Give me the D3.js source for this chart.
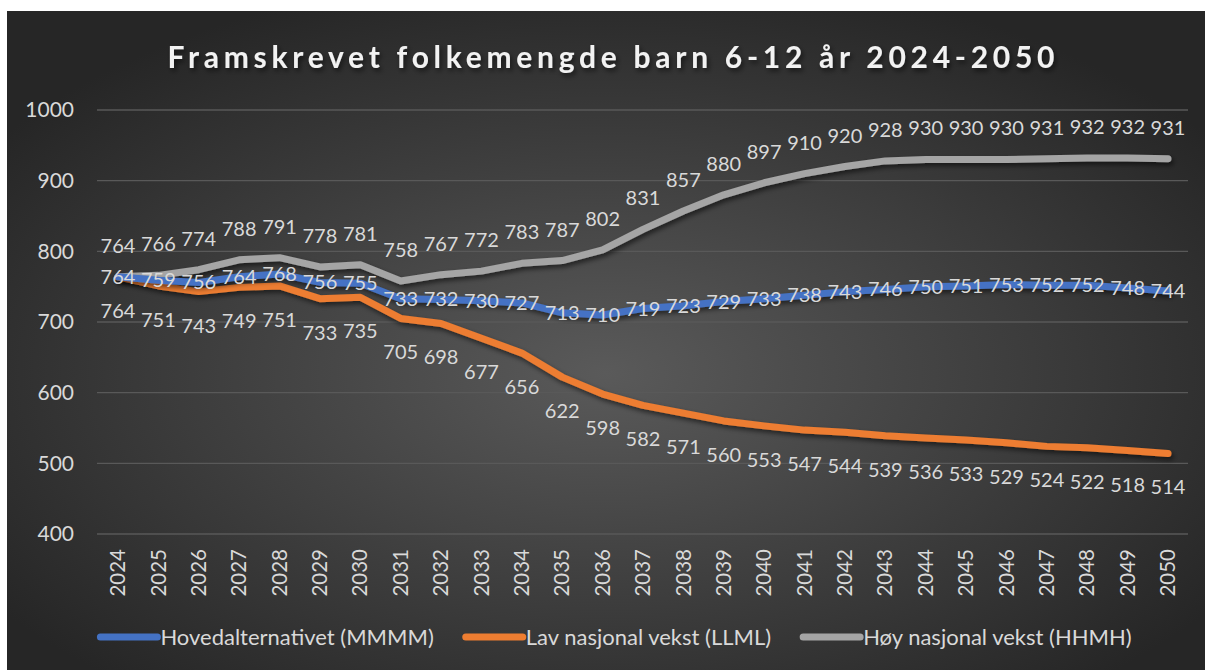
<!DOCTYPE html>
<html>
<head>
<meta charset="utf-8">
<script src="https://cdn.jsdelivr.net/npm/d3@7"></script>
<style>
  body { margin: 0; background: #fff; }
  svg { display: block; font-family: Lato, "Open Sans", sans-serif; }
</style>
</head>
<body>
<div id="chart"></div>
<script>
// data
const years = d3.range(2024, 2051).map(String);
const yTicks = [400, 500, 600, 700, 800, 900, 1000];
const seriesNames = ['Hovedalternativet (MMMM)', 'Lav nasjonal vekst (LLML)', 'Høy nasjonal vekst (HHMH)'];
const mmmm = [764, 759, 756, 764, 768, 756, 755, 733, 732, 730, 727, 713, 710, 719, 723, 729, 733, 738, 743, 746, 750, 751, 753, 752, 752, 748, 744];
const llml = [764, 751, 743, 749, 751, 733, 735, 705, 698, 677, 656, 622, 598, 582, 571, 560, 553, 547, 544, 539, 536, 533, 529, 524, 522, 518, 514];
const hhmh = [764, 766, 774, 788, 791, 778, 781, 758, 767, 772, 783, 787, 802, 831, 857, 880, 897, 910, 920, 928, 930, 930, 930, 931, 932, 932, 931];

const series = [
  { name: seriesNames[0], values: mmmm, color: '#4472c4', labelDy: 0 },
  { name: seriesNames[1], values: llml, color: '#ed7d31', labelDy: 34 },
  { name: seriesNames[2], values: hhmh, color: '#a5a5a5', labelDy: -31 }
];

const width = 1205, height = 670;
const svg = d3.select('#chart').append('svg')
  .attr('width', width)
  .attr('height', height);

const defs = svg.append('defs');
const grad = defs.append('radialGradient')
  .attr('id', 'bg')
  .attr('cx', '50%').attr('cy', '55%').attr('r', '62%');
grad.append('stop').attr('offset', '0%').attr('stop-color', '#5a5a5a');
grad.append('stop').attr('offset', '100%').attr('stop-color', '#262626');

const shadow = defs.append('filter').attr('id', 'shadow')
  .attr('x', '-5%').attr('y', '-20%').attr('width', '110%').attr('height', '140%');
shadow.append('feDropShadow')
  .attr('dx', 2).attr('dy', 3).attr('stdDeviation', 2.5)
  .attr('flood-color', '#000').attr('flood-opacity', 0.55);

svg.append('rect')
  .attr('x', 7).attr('y', 11)
  .attr('width', width - 7).attr('height', height - 11)
  .attr('fill', 'url(#bg)');

// scales
const x = d3.scalePoint().domain(years).range([118, 1168]);
const y = d3.scaleLinear().domain([400, 1000]).range([534, 110]);
const gridLeft = 97, gridRight = 1188;

// title
svg.append('text')
  .attr('x', 611).attr('y', 68)
  .attr('text-anchor', 'middle')
  .attr('font-size', 30)
  .attr('font-weight', 'bold')
  .attr('fill', '#f2f2f2')
  .attr('textLength', 887)
  .attr('lengthAdjust', 'spacing')
  .attr('filter', 'url(#shadow)')
  .text('Framskrevet folkemengde barn 6-12 år 2024-2050');

// gridlines
svg.append('g').selectAll('line')
  .data(yTicks)
  .join('line')
  .attr('x1', gridLeft).attr('x2', gridRight)
  .attr('y1', d => y(d)).attr('y2', d => y(d))
  .attr('stroke', '#595959')
  .attr('stroke-width', 1.3);

// y axis labels
svg.append('g').selectAll('text')
  .data(yTicks)
  .join('text')
  .attr('x', 74).attr('y', d => y(d))
  .attr('dy', '0.35em')
  .attr('text-anchor', 'end')
  .attr('font-size', 21)
  .attr('fill', '#d9d9d9')
  .text(d => d);

// x axis labels
svg.append('g').selectAll('text')
  .data(years)
  .join('text')
  .attr('transform', d => `translate(${x(d)},549) rotate(-90)`)
  .attr('dy', '0.35em')
  .attr('text-anchor', 'end')
  .attr('font-size', 20.5)
  .attr('fill', '#d9d9d9')
  .text(d => d);

// lines
const line = d3.line()
  .x((d, i) => x(years[i]))
  .y(d => y(d));

const drawOrder = [series[2], series[1], series[0]];
svg.append('g').selectAll('path')
  .data(drawOrder)
  .join('path')
  .attr('d', d => line(d.values))
  .attr('fill', 'none')
  .attr('stroke', d => d.color)
  .attr('stroke-width', 7)
  .attr('stroke-linejoin', 'round')
  .attr('stroke-linecap', 'round')
  .attr('filter', 'url(#shadow)');

// data labels
series.forEach(s => {
  svg.append('g').selectAll('text')
    .data(s.values)
    .join('text')
    .attr('x', (d, i) => x(years[i]))
    .attr('y', d => y(d) + s.labelDy)
    .attr('dy', '0.35em')
    .attr('text-anchor', 'middle')
    .attr('font-size', 20)
    .attr('fill', '#d9d9d9')
    .text(d => d);
});

// legend
const legend = svg.append('g');
const items = legend.selectAll('g')
  .data(series)
  .join('g');
items.append('line')
  .attr('x1', 0).attr('x2', 57)
  .attr('y1', 0).attr('y2', 0)
  .attr('stroke', d => d.color)
  .attr('stroke-width', 7)
  .attr('stroke-linecap', 'round');
items.append('text')
  .attr('x', 60)
  .attr('dy', '0.35em')
  .attr('font-size', 22)
  .attr('fill', '#d9d9d9')
  .text(d => d.name);

let offset = 0;
const widths = [];
items.each(function () {
  const w = 60 + d3.select(this).select('text').node().getComputedTextLength();
  widths.push(w);
});
const total = d3.sum(widths) + 32 * (widths.length - 1);
let start = 616 - total / 2;
items.attr('transform', (d, i) => {
  const t = `translate(${start + offset},637)`;
  offset += widths[i] + 32;
  return t;
});
</script>
</body>
</html>
